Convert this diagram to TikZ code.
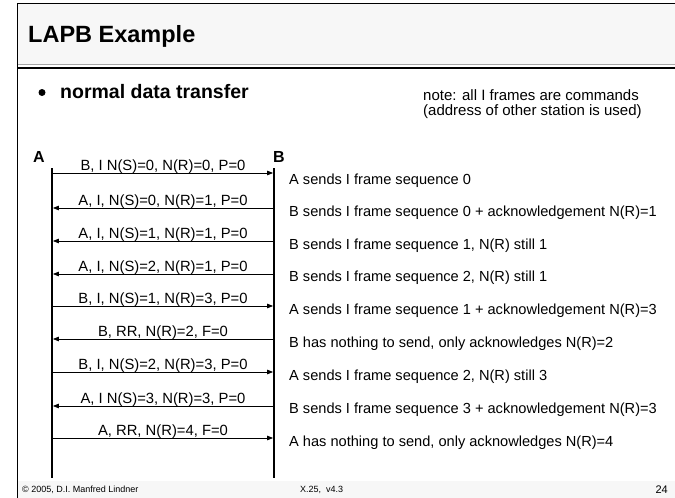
\documentclass[tikz,border=0pt]{standalone}
\usepackage{fontspec}
\setmainfont{Liberation Sans}
\usetikzlibrary{arrows.meta}
\definecolor{barbg}{HTML}{F7F7F7}
\tikzset{
  lifeline/.style={line width=1.8pt, black},
  msg/.style={line width=0.8pt, -{Triangle[length=6pt,width=4.5pt]}},
  msglabel/.style={anchor=base, yshift=2.2pt, inner sep=0pt, font=\fontsize{14.8}{16}\selectfont},
  desc/.style={anchor=west, inner sep=0pt, font=\fontsize{14.6}{16}\selectfont},
  station/.style={inner sep=0pt, font=\bfseries\fontsize{16}{18}\selectfont},
  foot/.style={inner sep=0pt, font=\fontsize{9}{11}\selectfont},
  bulletdot/.style={circle, fill=black, inner sep=0pt, minimum size=7pt}
}
\begin{document}
\begin{tikzpicture}[x=1pt,y=-1pt]
\useasboundingbox (0,0) rectangle (675,498);
% slide frame: title bar and footer band
\fill[barbg] (17,3.5) rectangle (675,64);
\fill[barbg] (17,481) rectangle (675,498);
\draw[line width=1.4pt] (17,3.5) -- (675,3.5);
\draw[line width=1.6pt, gray!70] (17,64.5) -- (675,64.5);
\draw[line width=1.4pt, black] (17,67.8) -- (675,67.8);
\draw[line width=1.4pt] (17.2,3) -- (17.2,498);

% title and bullet
\node[anchor=west, inner sep=0pt, font=\bfseries\fontsize{23.5}{27}\selectfont] (title) at (28,36) {LAPB Example};
\node[bulletdot] (dot) at (42,92.5) {};
\node[anchor=west, inner sep=0pt, font=\bfseries\fontsize{19.5}{22}\selectfont] (bullet) at (60,92) {normal data transfer};

% note
\node[anchor=north west, inner sep=0pt, align=left, font=\fontsize{15}{15.5}\selectfont] (note) at (423,89)
  {note: all I frames are commands\\(address of other station is used)};

% stations
\node[station] (A) at (39,157) {A};
\node[station] (B) at (279,157) {B};
\coordinate (Atop) at (52,168);
\coordinate (Abot) at (52,478);
\coordinate (Btop) at (274,168);
\coordinate (Bbot) at (274,478);
\draw[lifeline] (Atop) -- (Abot);
\draw[lifeline] (Btop) -- (Bbot);

% message levels
\foreach \i/\y in {1/173,2/208,3/241,4/274,5/306,6/339,7/372,8/406,9/438}{
  \coordinate (a\i) at (52.9,\y);
  \coordinate (b\i) at (273.1,\y);
}

\draw[msg] (a1) -- node[msglabel]{B, I N(S)=0, N(R)=0, P=0} (b1);
\draw[msg] (b2) -- node[msglabel]{A, I, N(S)=0, N(R)=1, P=0} (a2);
\draw[msg] (b3) -- node[msglabel]{A, I, N(S)=1, N(R)=1, P=0} (a3);
\draw[msg] (b4) -- node[msglabel]{A, I, N(S)=2, N(R)=1, P=0} (a4);
\draw[msg] (a5) -- node[msglabel]{B, I, N(S)=1, N(R)=3, P=0} (b5);
\draw[msg] (b6) -- node[msglabel]{B, RR, N(R)=2, F=0} (a6);
\draw[msg] (a7) -- node[msglabel]{B, I, N(S)=2, N(R)=3, P=0} (b7);
\draw[msg] (b8) -- node[msglabel]{A, I N(S)=3, N(R)=3, P=0} (a8);
\draw[msg] (a9) -- node[msglabel]{A, RR, N(R)=4, F=0} (b9);

% explanations
\node[desc] (d1) at (289,181) {A sends I frame sequence 0};
\node[desc] (d2) at (289,213) {B sends I frame sequence 0 + acknowledgement N(R)=1};
\node[desc] (d3) at (289,246) {B sends I frame sequence 1, N(R) still 1};
\node[desc] (d4) at (289,278) {B sends I frame sequence 2, N(R) still 1};
\node[desc] (d5) at (289,311) {A sends I frame sequence 1 + acknowledgement N(R)=3};
\node[desc] (d6) at (289,344) {B has nothing to send, only acknowledges N(R)=2};
\node[desc] (d7) at (289,377) {A sends I frame sequence 2, N(R) still 3};
\node[desc] (d8) at (289,410) {B sends I frame sequence 3 + acknowledgement N(R)=3};
\node[desc] (d9) at (289,443) {A has nothing to send, only acknowledges N(R)=4};

% footer
\node[foot, anchor=west] (copy) at (22,489.5) {\textcopyright{} 2005, D.I. Manfred Lindner};
\node[foot, anchor=west] (ver) at (300,489.5) {X.25,\ \ v4.3};
\node[inner sep=0pt, anchor=east, font=\fontsize{11}{12}\selectfont] (page) at (668,489.5) {24};
\end{tikzpicture}
\end{document}
